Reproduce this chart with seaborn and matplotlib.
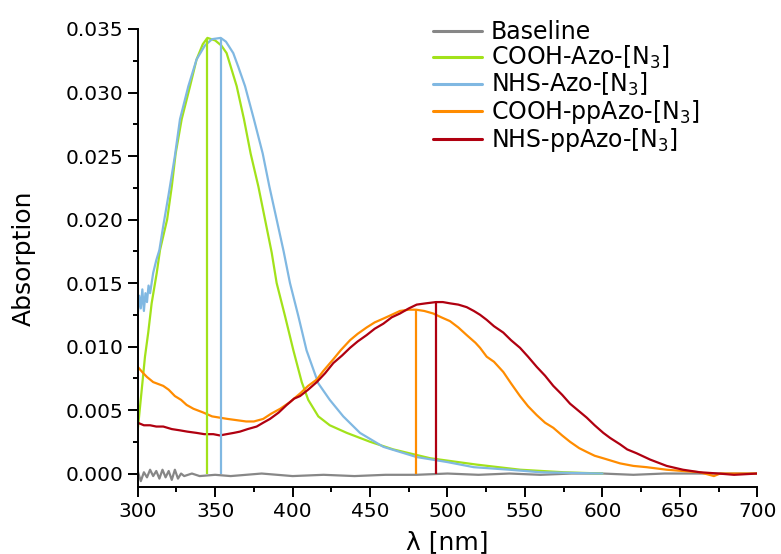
import numpy as np
import pandas as pd
import seaborn as sns
import matplotlib.pyplot as plt
from matplotlib.ticker import MultipleLocator, AutoMinorLocator

# values (wavelength in nm, absorption)
base_wl = [300, 302, 304, 306, 308, 310, 312, 314, 316, 318, 320, 322, 324, 326, 328, 330,
           335, 340, 350, 360, 370, 380, 390, 400, 420, 440, 460, 480, 500, 520, 540, 560,
           580, 600, 620, 640, 660, 680, 700]
base_abs = [0.0002, -0.0006, 0.0001, -0.0003, 0.0003, -0.0002, 0.0002, -0.0004, 0.0003, -0.0003,
            0.0002, -0.0005, 0.0003, -0.0004, 0.0000, -0.0002, 0.0000, -0.0002, -0.0001, -0.0002,
            -0.0001, 0.0000, -0.0001, -0.0002, -0.0001, -0.0002, -0.0001, -0.0001, 0.0000, -0.0001,
            0.0000, -0.0001, 0.0000, 0.0000, -0.0001, 0.0000, 0.0000, 0.0000, 0.0000]

cooh_azo_wl = [300, 302.6, 304.7, 306.8, 309, 312.3, 314.4, 319, 322, 324.5, 328.4, 333.8, 338,
               342, 345, 350, 354, 357.4, 363.9, 368.6, 372.9, 377.9, 382.2, 386.5, 389.7, 395.1,
               400.5, 405.9, 410.1, 416.6, 424, 435, 450, 465, 489, 519, 547, 575, 600]
cooh_azo_abs = [0.0034, 0.0066, 0.0092, 0.0111, 0.0134, 0.0158, 0.0176, 0.0200, 0.0226, 0.0252,
                0.0279, 0.0305, 0.0326, 0.0338, 0.0343, 0.0341, 0.0337, 0.0331, 0.0305, 0.0279,
                0.0252, 0.0226, 0.0200, 0.0174, 0.0150, 0.0124, 0.0097, 0.0072, 0.0058, 0.0045,
                0.0038, 0.0032, 0.0025, 0.0019, 0.0012, 0.0007, 0.0003, 0.0001, 0.0000]

nhs_azo_wl = [300, 301, 302, 303, 304, 305, 306, 307, 308, 310, 312, 314, 316.5, 320, 324, 327.3,
              332.7, 338, 343.4, 348, 353.6, 357, 361.7, 365, 369.3, 375, 380.7, 385, 389.7, 394.2,
              398.3, 403.7, 409, 416.6, 424, 432.7, 443.5, 458.6, 480, 500, 517, 540, 560, 600]
nhs_azo_abs = [0.0125, 0.0140, 0.0130, 0.0145, 0.0128, 0.0142, 0.0135, 0.0148, 0.0142, 0.0158,
               0.0168, 0.0176, 0.0195, 0.0220, 0.0250, 0.0279, 0.0305, 0.0326, 0.0337, 0.0342,
               0.0343, 0.0340, 0.0331, 0.0320, 0.0305, 0.0279, 0.0252, 0.0226, 0.0200, 0.0175,
               0.0150, 0.0124, 0.0097, 0.0071, 0.0058, 0.0045, 0.0032, 0.0021, 0.0013, 0.0009,
               0.0005, 0.0003, 0.0001, 0.0000]

cooh_ppazo_wl = [300, 303.6, 306, 310, 316.5, 320, 324, 328, 331.6, 336, 342.4, 348, 353, 358, 364,
                 370, 375, 381, 386, 392, 398, 404.8, 410, 415.6, 420, 426.3, 431, 437.1, 442,
                 447.8, 453, 458.6, 464, 469.3, 475, 479.7, 485, 490.8, 496, 501.6, 507, 512.4,
                 518, 521, 525.3, 530, 536, 541, 546.8, 552, 557.6, 563, 568.3, 574, 579.1, 585,
                 589.9, 595, 600.6, 611.4, 620, 628.6, 641.5, 652, 663, 672, 676, 700]
cooh_ppazo_abs = [0.0084, 0.0079, 0.0076, 0.0072, 0.0069, 0.0066, 0.0061, 0.0058, 0.0054, 0.0051,
                  0.0048, 0.0045, 0.0044, 0.0043, 0.0042, 0.0041, 0.0041, 0.0043, 0.0047, 0.0051,
                  0.0056, 0.0063, 0.0069, 0.0074, 0.0081, 0.0090, 0.0097, 0.0105, 0.0110, 0.0115,
                  0.0119, 0.0122, 0.0125, 0.0128, 0.0129, 0.0129, 0.0128, 0.0126, 0.0123, 0.0120,
                  0.0115, 0.0109, 0.0103, 0.0099, 0.0092, 0.0088, 0.0080, 0.0071, 0.0061, 0.0053,
                  0.0046, 0.0040, 0.0036, 0.0030, 0.0025, 0.0020, 0.0017, 0.0014, 0.0012, 0.0008,
                  0.0006, 0.0005, 0.0003, 0.0002, 0.0001, -0.0002, 0.0000, 0.0000]

nhs_ppazo_wl = [300, 304, 308, 312, 316.5, 322, 327.3, 332, 338, 343, 348.8, 353, 357.4, 362, 366,
                371, 376.8, 381, 385.4, 391, 396.2, 401, 404.8, 410, 415.6, 421, 426.3, 432, 437.1,
                442, 447.8, 453, 458.6, 464, 469.3, 475, 480.1, 486, 492.6, 497, 501.6, 507, 512.4,
                517, 521, 525.3, 530, 536, 541, 546.8, 552, 557.6, 563, 568.3, 574, 579.1, 585,
                589.9, 595, 600.6, 605, 611.4, 616, 622, 630.8, 641.5, 652, 663, 675, 685, 700]
nhs_ppazo_abs = [0.0040, 0.0038, 0.0038, 0.0037, 0.0037, 0.0035, 0.0034, 0.0033, 0.0032, 0.0031,
                 0.0031, 0.0030, 0.0031, 0.0032, 0.0033, 0.0035, 0.0037, 0.0040, 0.0043, 0.0048,
                 0.0054, 0.0059, 0.0061, 0.0066, 0.0072, 0.0079, 0.0087, 0.0093, 0.0099, 0.0104,
                 0.0109, 0.0114, 0.0118, 0.0123, 0.0126, 0.0130, 0.0133, 0.0134, 0.0135, 0.0135,
                 0.0134, 0.0133, 0.0131, 0.0128, 0.0125, 0.0121, 0.0116, 0.0111, 0.0105, 0.0099,
                 0.0092, 0.0084, 0.0077, 0.0069, 0.0062, 0.0055, 0.0049, 0.0044, 0.0038, 0.0032,
                 0.0028, 0.0023, 0.0019, 0.0016, 0.0011, 0.0006, 0.0003, 0.0001, 0.0000, -0.0001,
                 0.0000]

# peak markers (vertical lines)
peak_wl = [344.9, 353.6, 479.7, 492.6]
peak_abs = [0.0343, 0.0343, 0.0129, 0.01355]

labels = ["Baseline",
          r"COOH-Azo-[N$\mathregular{_3}$]",
          r"NHS-Azo-[N$\mathregular{_3}$]",
          r"COOH-ppAzo-[N$\mathregular{_3}$]",
          r"NHS-ppAzo-[N$\mathregular{_3}$]"]
colors = ["#878787", "#a2e21a", "#80b8e2", "#ff8c00", "#b00010"]

series = [(base_wl, base_abs), (cooh_azo_wl, cooh_azo_abs), (nhs_azo_wl, nhs_azo_abs),
          (cooh_ppazo_wl, cooh_ppazo_abs), (nhs_ppazo_wl, nhs_ppazo_abs)]

sns.set_style("ticks")
plt.rcParams['font.family'] = ['DejaVu Sans']
plt.rcParams['text.color'] = 'black'
plt.rcParams['axes.labelcolor'] = 'black'
plt.rcParams['xtick.color'] = 'black'
plt.rcParams['ytick.color'] = 'black'

fig = plt.figure(figsize=(7.81, 5.54), dpi=100)
ax = fig.add_axes([137.7 / 781, 67 / 554, (757.3 - 137.7) / 781, (487 - 29) / 554])

for (wl, ab), lab, col in zip(series, labels, colors):
    df = pd.DataFrame({"wl": wl, "abs": ab})
    sns.lineplot(data=df, x="wl", y="abs", ax=ax, color=col, lw=1.6, label=lab, sort=False)

for pw, pa, col in zip(peak_wl, peak_abs, colors[1:]):
    ax.vlines(pw, 0, pa, color=col, lw=1.6)

ax.set_xlim(300, 700)
ax.set_ylim(-0.00106, 0.035)
ax.xaxis.set_major_locator(MultipleLocator(50))
ax.xaxis.set_minor_locator(AutoMinorLocator(2))
ax.yaxis.set_major_locator(MultipleLocator(0.005))
ax.yaxis.set_minor_locator(AutoMinorLocator(2))
ax.yaxis.set_major_formatter(plt.FormatStrFormatter('%.3f'))
ax.tick_params(which='major', direction='out', length=7, width=1.4, labelsize=14.5,
               color='black', labelcolor='black')
ax.tick_params(which='minor', direction='out', length=3.6, width=1.4, color='black')
sns.despine(ax=ax)
for s in ['left', 'bottom']:
    ax.spines[s].set_linewidth(1.4)
    ax.spines[s].set_color('black')

ax.set_xlabel("λ [nm]", fontsize=18)
ax.set_ylabel("Absorption", fontsize=18)
ax.xaxis.set_label_coords(0.5, -0.095)
ax.yaxis.set_label_coords(-0.165, 0.5)

leg = ax.legend(loc='upper left', bbox_to_anchor=(421 / 781, 1 - 8 / 554),
                bbox_transform=fig.transFigure, frameon=False, fontsize=17,
                handlelength=2.1, handletextpad=0.35, labelspacing=0.0, borderpad=0)
for h in leg.get_lines():
    h.set_linewidth(2.2)

fig.savefig("out.png", dpi=100)
